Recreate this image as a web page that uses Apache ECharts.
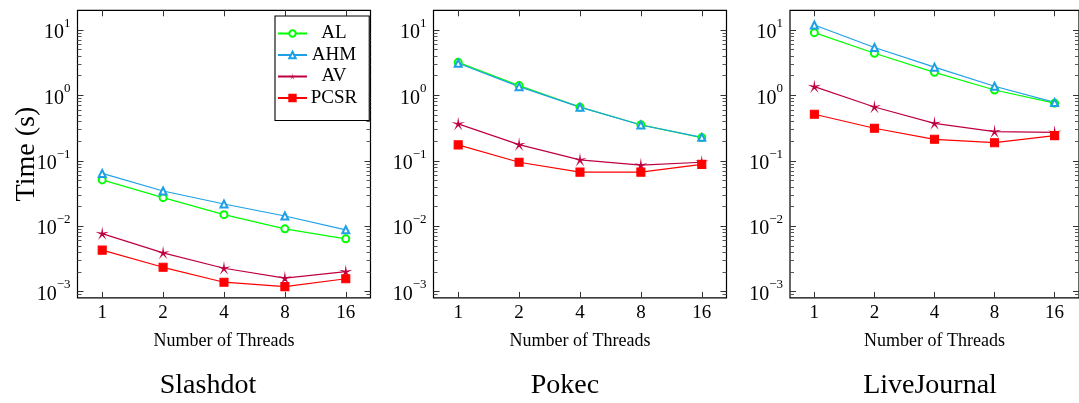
<!DOCTYPE html>
<html>
<head>
<meta charset="utf-8">
<script src="https://cdn.jsdelivr.net/npm/echarts@6/dist/echarts.min.js"></script>
<style>
  html, body { margin: 0; padding: 0; background: #fff; }
  #chart { width: 1079px; height: 403px; }
</style>
</head>
<body>
<div id="chart"></div>
<script>
// ---- data ----
const threads = [1, 2, 4, 8, 16];
const datasetNames = ['Slashdot', 'Pokec', 'LiveJournal'];
const seriesNames = ['AL', 'AHM', 'AV', 'PCSR'];
const yMajorTicks = [0.001, 0.01, 0.1, 1, 10];

const slashdotAL   = [0.051, 0.0273, 0.015, 0.0091, 0.0064];
const slashdotAHM  = [0.064, 0.0345, 0.0218, 0.0143, 0.0088];
const slashdotAV   = [0.0077, 0.0039, 0.00227, 0.00161, 0.00202];
const slashdotPCSR = [0.0043, 0.00235, 0.00139, 0.00119, 0.00157];

const pokecAL   = [3.2, 1.41, 0.66, 0.355, 0.226];
const pokecAHM  = [3.1, 1.36, 0.66, 0.352, 0.228];
const pokecAV   = [0.366, 0.177, 0.103, 0.086, 0.095];
const pokecPCSR = [0.175, 0.095, 0.067, 0.067, 0.088];

const liveJournalAL   = [9.1, 4.4, 2.25, 1.21, 0.76];
const liveJournalAHM  = [11.9, 5.4, 2.7, 1.38, 0.78];
const liveJournalAV   = [1.36, 0.665, 0.374, 0.279, 0.272];
const liveJournalPCSR = [0.514, 0.314, 0.213, 0.189, 0.242];

const panelData = [
  [slashdotAL, slashdotAHM, slashdotAV, slashdotPCSR],
  [pokecAL, pokecAHM, pokecAV, pokecPCSR],
  [liveJournalAL, liveJournalAHM, liveJournalAV, liveJournalPCSR]
];

// ---- styling ----
const FONT = '"Liberation Serif", "DejaVu Serif", serif';
const colors = ['#00ff00', '#1ea0e6', '#bf0040', '#ff0000'];
const starPath = 'path://M0,-10 L1.3,-1.8 L9.51,-3.09 L2.1,0.68 L5.88,8.09 L0,2.2 L-5.88,8.09 L-2.1,0.68 L-9.51,-3.09 L-1.3,-1.8 Z';
const symbols = ['emptyCircle', 'emptyTriangle', starPath, 'rect'];
const symbolSizes = [7, 7, 7, 8];

const Y_MIN = 8e-4, Y_MAX = 20;
const X_MIN = 0.755, X_MAX = 21.2;

const yMinorTicks = [];
for (let d = -4; d <= 1; d++) {
  for (let k = 2; k <= 9; k++) {
    const v = k * Math.pow(10, d);
    if (v > Y_MIN * 1.01 && v < Y_MAX * 0.99) yMinorTicks.push(v);
  }
}

const gridLefts = [77.5, 433.5, 790];
const titleCenters = [203, 560, 925];
const tickColor = '#333';

const grids = [], xAxes = [], yAxes = [], series = [], titles = [];

function yLabel(v) {
  const e = Math.round(Math.log10(v));
  return '{b|10}{s|' + (e < 0 ? '\u2212' + (-e) : e) + '}';
}

gridLefts.forEach((left, i) => {
  grids.push({
    left: left, top: 10.3, width: 293, height: 287.6,
    show: true, borderColor: '#000', borderWidth: 1.2, backgroundColor: 'transparent'
  });
  const xBase = {
    gridIndex: i, type: 'log', logBase: 2, min: X_MIN, max: X_MAX,
    axisLine: { show: false }, splitLine: { show: false }, minorTick: { show: false },
    axisTick: { inside: true, length: 6, customValues: threads, lineStyle: { color: tickColor, width: 1 } }
  };
  xAxes.push(Object.assign({}, xBase, {
    position: 'bottom',
    axisLabel: {
      customValues: threads, margin: 6, fontFamily: FONT, fontSize: 19, color: '#000',
      formatter: v => String(Math.round(v))
    },
    name: 'Number of Threads', nameLocation: 'middle', nameGap: 34,
    nameTextStyle: { fontFamily: FONT, fontSize: 18, color: '#000' }
  }));
  xAxes.push(Object.assign({}, xBase, { position: 'top', axisLabel: { show: false } }));

  const yBase = {
    gridIndex: i, type: 'log', min: Y_MIN, max: Y_MAX,
    axisLine: { show: false }, splitLine: { show: false }, minorTick: { show: false }
  };
  ['left', 'right'].forEach(pos => {
    const major = Object.assign({}, yBase, {
      position: pos,
      axisTick: { inside: true, length: 6, customValues: yMajorTicks, lineStyle: { color: tickColor, width: 1 } },
      axisLabel: pos === 'left' ? {
        customValues: yMajorTicks, margin: 7, formatter: yLabel,
        rich: {
          b: { fontFamily: FONT, fontSize: 20, color: '#000', lineHeight: 26, verticalAlign: 'bottom' },
          s: { fontFamily: FONT, fontSize: 13, color: '#000', lineHeight: 14, verticalAlign: 'top' }
        }
      } : { show: false }
    });
    if (pos === 'left' && i === 0) {
      Object.assign(major, {
        name: 'Time (s)', nameLocation: 'middle', nameGap: 37, nameMoveOverlap: false,
        nameTextStyle: { fontFamily: FONT, fontSize: 28, color: '#000' }
      });
    }
    yAxes.push(major);
    yAxes.push(Object.assign({}, yBase, {
      position: pos,
      axisTick: { inside: true, length: 4, customValues: yMinorTicks, lineStyle: { color: '#555', width: 1 } },
      axisLabel: { show: false }
    }));
  });

  seriesNames.forEach((name, s) => {
    series.push({
      name: name, type: 'line',
      xAxisIndex: i * 2, yAxisIndex: i * 4,
      data: threads.map((t, k) => [t, panelData[i][s][k]]),
      symbol: symbols[s], symbolSize: symbolSizes[s],
      showAllSymbol: true,
      lineStyle: { color: colors[s], width: 1.2 },
      itemStyle: { color: colors[s], borderColor: colors[s], borderWidth: 1.1 },
      emphasis: { disabled: true }
    });
  });

  titles.push({
    text: datasetNames[i], left: titleCenters[i], top: 367, textAlign: 'center',
    textStyle: { fontFamily: FONT, fontSize: 28, fontWeight: 'normal', color: '#000' }
  });
});

const legendData = seriesNames.map(n => n === 'AV'
  ? { name: n, itemStyle: { borderWidth: 0 } }
  : { name: n });

const chart = echarts.init(document.getElementById('chart'), null, { renderer: 'canvas' });
chart.setOption({
  animation: false,
  backgroundColor: '#fff',
  title: titles,
  grid: grids,
  xAxis: xAxes,
  yAxis: yAxes,
  legend: {
    data: legendData,
    orient: 'vertical', left: 275, top: 16,
    backgroundColor: '#fff', borderColor: '#000', borderWidth: 1.1, borderRadius: 0,
    padding: [8, 12, 13, 2],
    itemWidth: 29, itemHeight: 8, itemGap: 2.5,
    formatter: name => '{c|' + name + '}',
    textStyle: {
      rich: { c: { width: 44, align: 'center', fontFamily: FONT, fontSize: 19, color: '#000', lineHeight: 20 } }
    }
  },
  series: series
});
</script>
</body>
</html>
